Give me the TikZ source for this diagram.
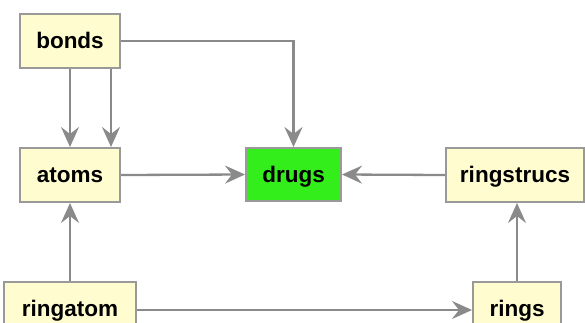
\documentclass[tikz,border=0pt]{standalone}
\usepackage{fontspec}
\setmainfont{Liberation Sans}
\usetikzlibrary{arrows.meta}
\definecolor{boxfill}{HTML}{FFFDD0}
\definecolor{boxline}{HTML}{999999}
\definecolor{linegray}{HTML}{8A8A8A}
\definecolor{druggreen}{HTML}{33EE1A}
\begin{document}
\begin{tikzpicture}[x=1pt,y=-1pt,
  box/.style={draw=boxline, line width=2pt, fill=boxfill, inner sep=0pt, text height=20pt, text depth=5pt, font=\fontsize{22.5}{26}\selectfont\bfseries},
  conn/.style={draw=linegray, line width=2.3pt, -{Stealth[length=20pt,width=18pt,inset=7pt]}}]
\useasboundingbox (0,0) rectangle (585,322);
\clip (0,0) rectangle (585,322);
\fill[white] (0,0) rectangle (585,322);
\node[box, minimum width=100pt, minimum height=54pt] (bonds) at (70,41) {bonds};
\node[box, minimum width=100pt, minimum height=54pt] (atoms) at (70,175) {atoms};
\node[box, fill=druggreen, minimum width=95pt, minimum height=53pt] (drugs) at (293.5,174.5) {drugs};
\node[box, minimum width=138pt, minimum height=54pt] (ringstrucs) at (515,175) {ringstrucs};
\node[box, minimum width=88pt, minimum height=54pt] (rings) at (517,309) {rings};
\node[box, minimum width=132pt, minimum height=54pt] (ringatom) at (70,309) {ringatom};
\draw[conn] (bonds.east) -| (drugs.north);
\draw[conn] (bonds.south) -- (atoms.north);
\draw[conn] ([xshift=41pt]bonds.south) -- ([xshift=41pt]atoms.north);
\draw[conn] (atoms.east) -- (drugs.west);
\draw[conn] (ringstrucs.west) -- (drugs.east);
\draw[conn] (ringatom.north) -- (atoms.south);
\draw[conn] ([yshift=-1pt]ringatom.east) -- ([yshift=-1pt]rings.west);
\draw[conn] (rings.north) -- (rings.north |- ringstrucs.south);
\end{tikzpicture}
\end{document}
